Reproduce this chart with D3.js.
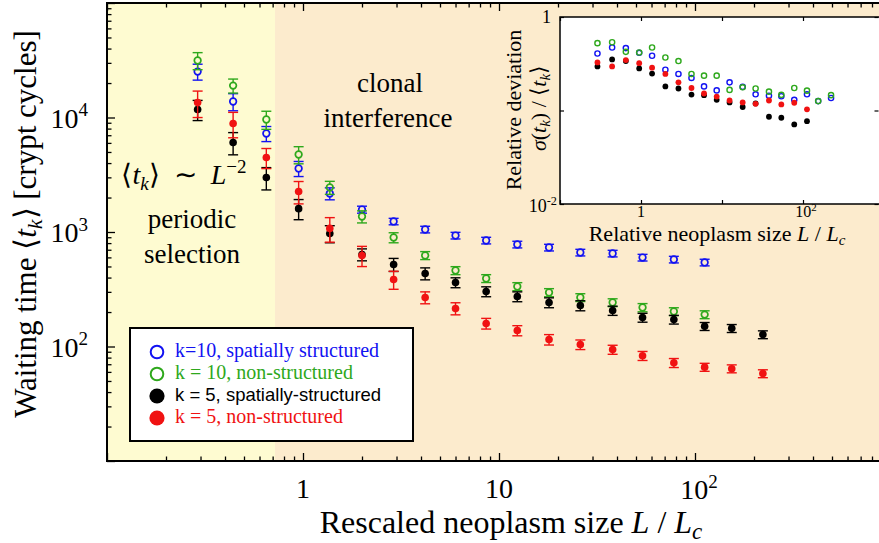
<!DOCTYPE html>
<html>
<head>
<meta charset="utf-8">
<script src="https://cdn.jsdelivr.net/npm/d3@7/dist/d3.min.js"></script>
<style>
  body { margin: 0; background: #fff; }
  svg { display: block; }
  text { font-family: "Liberation Serif", "Times New Roman", serif; fill: #000; }
</style>
</head>
<body>
<svg id="chart" width="879" height="543"></svg>
<script>
// rescaled neoplasm size L/Lc (shared by every series)
var sizes = [0.29, 0.44, 0.65, 0.95, 1.37, 2.0, 2.9, 4.2, 6.0, 8.6, 12.4, 18, 26, 38, 54, 78, 112, 154, 222];

// mean waiting time <t_k> and its error bar (crypt cycles)
var blueMean  = [25200, 13800, 7250, 3590, 2170, 1570, 1236, 1052, 931, 843, 778, 732, 662, 649, 598, 575, 542];
var blueErr   = [4000, 2350, 1090, 540, 260, 110, 80, 70, 62, 56, 52, 49, 44, 43, 40, 38, 36];
var greenMean = [31500, 19000, 9610, 4750, 2450, 1365, 895, 624, 461, 393, 334, 296, 268, 242, 219, 202, 190];
var greenErr  = [5350, 2660, 1730, 810, 320, 165, 90, 50, 37, 31, 27, 24, 21, 19, 18, 16, 15];
var blackMean = [11750, 6050, 2990, 1600, 970, 636, 520, 434, 362, 302, 273, 242, 228, 206, 179, 172, 150, 144, 127];
var blackErr  = [2350, 1330, 660, 320, 165, 76, 68, 52, 36, 30, 27, 24, 23, 19, 16, 15, 12, 11.5, 10];
var redMean   = [13500, 8870, 4470, 2260, 1075, 624, 385, 268, 215, 159, 138, 115, 104, 94, 83, 72, 66, 64, 58];
var redErr    = [3510, 2220, 890, 500, 260, 125, 69, 32, 26, 17, 14, 12, 10, 8.5, 7.5, 6.5, 5.3, 5.1, 4.6];

// inset: relative deviation sigma(t_k)/<t_k>
var blueDev  = [0.407, 0.472, 0.465, 0.414, 0.385, 0.273, 0.246, 0.223, 0.181, 0.164, 0.200, 0.179, 0.149, 0.144, 0.142, 0.130, 0.149, 0.126, 0.136];
var greenDev = [0.525, 0.537, 0.424, 0.417, 0.472, 0.369, 0.338, 0.246, 0.236, 0.236, 0.166, 0.177, 0.172, 0.159, 0.147, 0.174, 0.163, 0.126, 0.146];
var blackDev = [0.296, 0.352, 0.338, 0.282, 0.248, 0.181, 0.172, 0.148, 0.146, 0.130, 0.122, 0.109, 0.119, 0.0857, 0.0836, 0.0710, 0.0769];
var redDev   = [0.327, 0.296, 0.346, 0.321, 0.287, 0.246, 0.200, 0.174, 0.152, 0.141, 0.128, 0.122, 0.118, 0.128, 0.116, 0.121, 0.103];

var legendLabels = ["k=10, spatially structured", "k = 10, non-structured", "k = 5, spatially-structured", "k = 5, non-structured"];
var regimeBoundary = 0.72;   // periodic selection | clonal interference

var colors = {blue: "#1212f2", green: "#2ea81c", black: "#000000", red: "#f01212"};
var bgYellow = "#fefbd1";
var bgBeige = "#fcebcd";

var svg = d3.select("#chart");

var x = d3.scaleLog().domain([0.1, 1000]).range([107, 891]);
var y = d3.scaleLog().domain([10, 1e5]).range([461, 3]);

var series = [
  {mean: blueMean, err: blueErr, dev: blueDev, color: colors.blue, open: true},
  {mean: greenMean, err: greenErr, dev: greenDev, color: colors.green, open: true},
  {mean: blackMean, err: blackErr, dev: blackDev, color: colors.black, open: false},
  {mean: redMean, err: redErr, dev: redDev, color: colors.red, open: false}
];

drawMain();
drawLegend();
drawInset();

function isMajor(t) {
  var l = Math.log10(t);
  return Math.abs(l - Math.round(l)) < 1e-6;
}

// "10" with a superscript exponent
function powText(g, exp, px, py, size, anchor) {
  var t = g.append("text")
    .attr("x", px).attr("y", py)
    .attr("text-anchor", anchor)
    .style("font-size", size + "px");
  t.append("tspan").text("10");
  t.append("tspan").attr("dy", -size * 0.4).style("font-size", (size * 0.68) + "px").text(exp);
  return t;
}

function drawMain() {
  var left = x.range()[0], right = x.range()[1];
  var top = y.range()[1], bottom = y.range()[0];

  svg.append("defs").append("clipPath").attr("id", "plotclip")
    .append("rect").attr("x", left).attr("y", top).attr("width", right - left).attr("height", bottom - top);

  /* two regimes */
  svg.append("rect").attr("x", left).attr("y", top)
    .attr("width", x(regimeBoundary) - left).attr("height", bottom - top)
    .attr("fill", bgYellow);
  svg.append("rect").attr("x", x(regimeBoundary)).attr("y", top)
    .attr("width", right - x(regimeBoundary)).attr("height", bottom - top)
    .attr("fill", bgBeige);

  /* ticks, all pointing inward */
  var xMinor = x.ticks().filter(function(t) { return !isMajor(t); });
  var xMajor = x.ticks().filter(isMajor);
  var yMinor = y.ticks().filter(function(t) { return !isMajor(t); });
  var yMajor = y.ticks().filter(isMajor);

  var axes = svg.append("g").attr("class", "axes");
  axes.append("g").attr("transform", "translate(0," + bottom + ")")
    .call(d3.axisBottom(x).tickValues(xMinor).tickSize(-4.5).tickFormat(""));
  axes.append("g").attr("transform", "translate(0," + bottom + ")")
    .call(d3.axisBottom(x).tickValues(xMajor).tickSize(-8).tickFormat(""));
  axes.append("g").attr("transform", "translate(0," + top + ")")
    .call(d3.axisTop(x).tickValues(xMinor).tickSize(-4.5).tickFormat(""));
  axes.append("g").attr("transform", "translate(0," + top + ")")
    .call(d3.axisTop(x).tickValues(xMajor).tickSize(-8).tickFormat(""));
  axes.append("g").attr("transform", "translate(" + left + ",0)")
    .call(d3.axisLeft(y).tickValues(yMinor).tickSize(-4.5).tickFormat(""));
  axes.append("g").attr("transform", "translate(" + left + ",0)")
    .call(d3.axisLeft(y).tickValues(yMajor).tickSize(-8).tickFormat(""));
  axes.selectAll(".domain").remove();
  axes.selectAll(".tick line").attr("stroke", "#000").attr("stroke-width", 1.3);

  svg.append("rect").attr("x", left).attr("y", top)
    .attr("width", right - left).attr("height", bottom - top)
    .attr("fill", "none").attr("stroke", "#000").attr("stroke-width", 2);

  /* tick labels */
  var lab = svg.append("g");
  [2, 3, 4].forEach(function(e) { powText(lab, e, 88, y(Math.pow(10, e)) + 10, 28, "end"); });
  lab.append("text").attr("x", x(1)).attr("y", 498).attr("text-anchor", "middle").style("font-size", "28px").text("1");
  lab.append("text").attr("x", x(10)).attr("y", 498).attr("text-anchor", "middle").style("font-size", "28px").text("10");
  powText(lab, 2, x(100) + 4, 499, 28, "middle");

  /* axis titles */
  var xt = lab.append("text").attr("x", 511).attr("y", 533).attr("text-anchor", "middle").style("font-size", "32px");
  xt.append("tspan").text("Rescaled neoplasm size ");
  xt.append("tspan").style("font-style", "italic").text("L");
  xt.append("tspan").text(" / ");
  xt.append("tspan").style("font-style", "italic").text("L");
  xt.append("tspan").attr("dy", 6).style("font-style", "italic").style("font-size", "23px").text("c");

  var yt = lab.append("text").attr("transform", "translate(36,224) rotate(-90)")
    .attr("text-anchor", "middle").style("font-size", "31px");
  yt.append("tspan").text("Waiting time \u27E8");
  yt.append("tspan").style("font-style", "italic").text("t");
  yt.append("tspan").attr("dy", 6).style("font-style", "italic").style("font-size", "22px").text("k");
  yt.append("tspan").attr("dy", -6).text("\u27E9 [crypt cycles]");

  /* regime annotations */
  var ann = svg.append("g").style("font-size", "27px");
  ann.append("text").attr("x", 390).attr("y", 92).attr("text-anchor", "middle").text("clonal");
  ann.append("text").attr("x", 388).attr("y", 127).attr("text-anchor", "middle").text("interference");
  var law = ann.append("text").attr("x", 184).attr("y", 184).attr("text-anchor", "middle").style("font-size", "28px");
  law.append("tspan").text("\u27E8");
  law.append("tspan").style("font-style", "italic").text("t");
  law.append("tspan").attr("dy", 6).style("font-style", "italic").style("font-size", "19px").text("k");
  law.append("tspan").attr("dy", -6).text("\u27E9\u2002\u223C\u2002");
  law.append("tspan").style("font-style", "italic").text("L");
  law.append("tspan").attr("dy", -11).style("font-size", "19px").text("\u22122");
  ann.append("text").attr("x", 192).attr("y", 228).attr("text-anchor", "middle").text("periodic");
  ann.append("text").attr("x", 192).attr("y", 263).attr("text-anchor", "middle").text("selection");

  /* data: error bars then markers */
  var plot = svg.append("g").attr("clip-path", "url(#plotclip)");
  series.forEach(function(s) {
    var pts = s.mean.map(function(m, i) { return {x: sizes[i], m: m, e: s.err[i]}; });
    var r = s.open ? 3.3 : 3.8;
    var gap = s.open ? r : 0;
    var g = plot.append("g").attr("stroke", s.color).attr("stroke-width", 1.4);
    pts.forEach(function(p) {
      var cx = x(p.x), cy = y(p.m), yHi = y(p.m + p.e), yLo = y(p.m - p.e);
      if (cy - gap > yHi) g.append("line").attr("x1", cx).attr("x2", cx).attr("y1", yHi).attr("y2", cy - gap);
      if (cy + gap < yLo) g.append("line").attr("x1", cx).attr("x2", cx).attr("y1", cy + gap).attr("y2", yLo);
      g.append("line").attr("x1", cx - 5).attr("x2", cx + 5).attr("y1", yHi).attr("y2", yHi);
      g.append("line").attr("x1", cx - 5).attr("x2", cx + 5).attr("y1", yLo).attr("y2", yLo);
    });
    plot.append("g").selectAll("circle").data(pts).enter().append("circle")
      .attr("cx", function(d) { return x(d.x); })
      .attr("cy", function(d) { return y(d.m); })
      .attr("r", r)
      .attr("fill", s.open ? "none" : s.color)
      .attr("stroke", s.open ? s.color : "none")
      .attr("stroke-width", 1.7);
  });
}

function drawLegend() {
  var g = svg.append("g").attr("transform", "translate(130,328)");
  g.append("rect").attr("width", 283).attr("height", 113)
    .attr("fill", "#fff").attr("stroke", "#000").attr("stroke-width", 2);
  var rows = g.selectAll("g.row").data(series).enter().append("g")
    .attr("class", "row")
    .attr("transform", function(d, i) { return "translate(27," + (24 + i * 22) + ")"; });
  rows.append("circle")
    .attr("r", function(d) { return d.open ? 6.3 : 7.6; })
    .attr("fill", function(d) { return d.open ? "none" : d.color; })
    .attr("stroke", function(d) { return d.open ? d.color : "none"; })
    .attr("stroke-width", 2);
  rows.append("text")
    .attr("x", 18).attr("y", 5)
    .style("fill", function(d) { return d.color; })
    .style("font-family", function(d, i) { return i == 2 ? "'Liberation Sans', Arial, sans-serif" : null; })
    .style("font-size", function(d, i) { return i == 2 ? "18.5px" : "20px"; })
    .text(function(d, i) { return legendLabels[i]; });
}

function drawInset() {
  var xi = d3.scaleLog().domain([0.1, 1000]).range([560, 884]);
  var yi = d3.scaleLog().domain([0.01, 1]).range([204, 17]);
  var left = 560, right = 884, top = 17, bottom = 204;

  svg.append("rect").attr("x", left).attr("y", top)
    .attr("width", right - left).attr("height", bottom - top)
    .attr("fill", "#fff");

  var axes = svg.append("g");
  var xDec = [0.1, 1, 10, 100, 1000], yDec = [0.01, 0.1, 1];
  axes.append("g").attr("transform", "translate(0," + bottom + ")")
    .call(d3.axisBottom(xi).tickValues(xDec).tickSize(-4).tickFormat(""));
  axes.append("g").attr("transform", "translate(0," + top + ")")
    .call(d3.axisTop(xi).tickValues(xDec).tickSize(-4).tickFormat(""));
  axes.append("g").attr("transform", "translate(" + left + ",0)")
    .call(d3.axisLeft(yi).tickValues(yDec).tickSize(-4).tickFormat(""));
  axes.append("g").attr("transform", "translate(" + (879 - 0.5) + ",0)")
    .call(d3.axisRight(yi).tickValues(yDec).tickSize(-4).tickFormat(""));
  axes.selectAll(".domain").remove();
  axes.selectAll(".tick line").attr("stroke", "#000").attr("stroke-width", 1.2);

  svg.append("rect").attr("x", left).attr("y", top)
    .attr("width", right - left).attr("height", bottom - top)
    .attr("fill", "none").attr("stroke", "#000").attr("stroke-width", 1.5);

  var lab = svg.append("g");
  lab.append("text").attr("x", 551).attr("y", 23).attr("text-anchor", "end").style("font-size", "18px").text("1");
  powText(lab, "-2", 557, 212, 18, "end");
  lab.append("text").attr("x", xi(1)).attr("y", 217).attr("text-anchor", "middle").style("font-size", "16px").text("1");
  powText(lab, 2, xi(100) + 3, 217, 16, "middle");

  var xt = lab.append("text").attr("x", 717).attr("y", 241).attr("text-anchor", "middle").style("font-size", "22px");
  xt.append("tspan").text("Relative neoplasm size ");
  xt.append("tspan").style("font-style", "italic").text("L");
  xt.append("tspan").text(" / ");
  xt.append("tspan").style("font-style", "italic").text("L");
  xt.append("tspan").attr("dy", 4).style("font-style", "italic").style("font-size", "15px").text("c");

  lab.append("text").attr("transform", "translate(521,110) rotate(-90)")
    .attr("text-anchor", "middle").style("font-size", "22px").text("Relative deviation");
  var st = lab.append("text").attr("transform", "translate(546,108) rotate(-90)")
    .attr("text-anchor", "middle").style("font-size", "22px");
  st.append("tspan").style("font-style", "italic").text("\u03C3");
  st.append("tspan").text("(");
  st.append("tspan").style("font-style", "italic").text("t");
  st.append("tspan").attr("dy", 4).style("font-style", "italic").style("font-size", "15px").text("k");
  st.append("tspan").attr("dy", -4).text(") / \u27E8");
  st.append("tspan").style("font-style", "italic").text("t");
  st.append("tspan").attr("dy", 4).style("font-style", "italic").style("font-size", "15px").text("k");
  st.append("tspan").attr("dy", -4).text("\u27E9");

  series.forEach(function(s) {
    svg.append("g").selectAll("circle").data(s.dev).enter().append("circle")
      .attr("cx", function(d, i) { return xi(sizes[i]); })
      .attr("cy", function(d) { return yi(d); })
      .attr("r", s.open ? 2.6 : 2.9)
      .attr("fill", s.open ? "none" : s.color)
      .attr("stroke", s.open ? s.color : "none")
      .attr("stroke-width", 1.4);
  });
}
</script>
</body>
</html>
